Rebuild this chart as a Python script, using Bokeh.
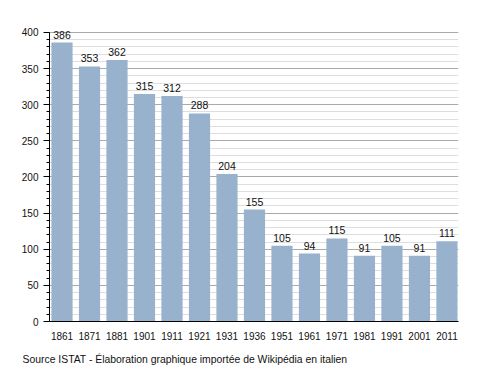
from bokeh.plotting import figure
from bokeh.models import ColumnDataSource, LabelSet, Title, Range1d, SingleIntervalTicker, FixedTicker
from bokeh.core.properties import value
from bokeh.embed import file_html
from bokeh.resources import INLINE

years = ["1861", "1871", "1881", "1901", "1911", "1921", "1931", "1936",
         "1951", "1961", "1971", "1981", "1991", "2001", "2011"]
population = [386, 353, 362, 315, 312, 288, 204, 155, 105, 94, 115, 91, 105, 91, 111]

idx = list(range(len(years)))
src = ColumnDataSource(dict(x=idx, top=population, lab=[str(v) for v in population]))

FONT = "Liberation Sans"

p = figure(width=480, height=373, output_backend="svg", toolbar_location=None,
           x_range=Range1d(-0.455, len(years) - 1 + 0.42), y_range=Range1d(0, 413.8),
           min_border_left=49, min_border_right=22, min_border_top=22, min_border_bottom=50)
p.outline_line_color = None
p.background_fill_color = "white"

p.vbar(x="x", top="top", width=0.77, source=src, color="#98b2ce", line_color=None)

p.add_layout(LabelSet(x="x", y="top", text="lab", source=src, text_align="center",
                      text_baseline="alphabetic", y_offset=4, text_font_size="10.5px",
                      text_font=value(FONT), text_color="#111111"))

# y axis
p.yaxis.ticker = SingleIntervalTicker(interval=50, num_minor_ticks=5)
p.yaxis.bounds = (0, 400)
p.yaxis.major_tick_out = 6
p.yaxis.major_tick_in = 0
p.yaxis.minor_tick_out = 3
p.yaxis.minor_tick_in = 0
p.yaxis.axis_line_color = "black"
p.yaxis.major_tick_line_color = "black"
p.yaxis.minor_tick_line_color = "black"
p.yaxis.major_label_text_font = FONT
p.yaxis.major_label_text_font_size = "10px"
p.yaxis.major_label_text_color = "#111111"
p.yaxis.major_label_standoff = 5

# x axis
p.xaxis.ticker = FixedTicker(ticks=idx)
p.xaxis.major_label_overrides = {i: y for i, y in enumerate(years)}
p.xaxis.major_tick_line_color = None
p.xaxis.minor_tick_line_color = None
p.xaxis.axis_line_color = "black"
p.xaxis.major_label_text_font = FONT
p.xaxis.major_label_text_font_size = "10px"
p.xaxis.major_label_text_color = "#111111"
p.xaxis.major_label_standoff = 4

# grids
p.xgrid.grid_line_color = None
p.ygrid.ticker = SingleIntervalTicker(interval=50, num_minor_ticks=5)
p.ygrid.bounds = (0, 400)
p.ygrid.grid_line_color = "#aaaaaa"
p.ygrid.minor_grid_line_color = "#dedede"

p.add_layout(Title(text="Source ISTAT - Élaboration graphique importée de Wikipédia en italien",
                   align="left", offset=-27, standoff=18,
                   text_font=FONT, text_font_size="10.4px", text_font_style="normal",
                   text_color="#111111"), "below")

open("out.html", "w").write(file_html(p, INLINE))
